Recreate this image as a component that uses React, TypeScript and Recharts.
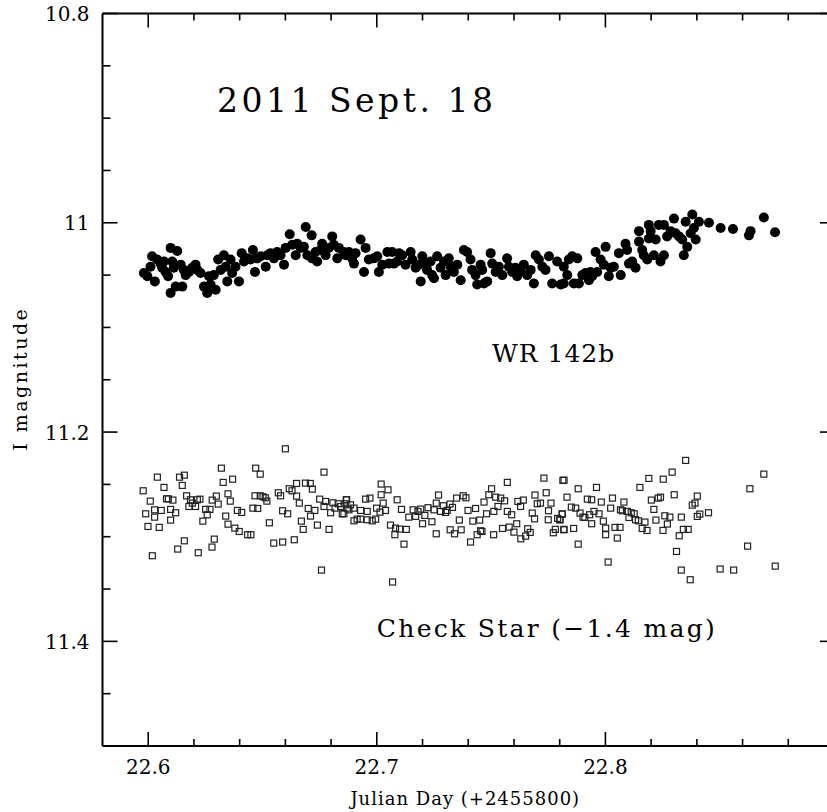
import { ScatterChart, Scatter, XAxis, YAxis, ReferenceDot, ReferenceLine } from 'recharts';

// WR 142b, I band, JD - 2455800
const wrPhot: [number, number][] = [
  [22.5981, 11.048], [22.5996, 11.051], [22.6010, 11.042], [22.6017, 11.032], [22.6029, 11.056],
  [22.6039, 11.035], [22.6054, 11.039], [22.6061, 11.043], [22.6069, 11.037], [22.6076, 11.047],
  [22.6087, 11.051], [22.6098, 11.024], [22.6098, 11.067], [22.6105, 11.037], [22.6112, 11.043],
  [22.6120, 11.061], [22.6127, 11.027], [22.6142, 11.040], [22.6149, 11.061], [22.6156, 11.045],
  [22.6164, 11.050], [22.6178, 11.047], [22.6192, 11.043], [22.6207, 11.040], [22.6214, 11.045],
  [22.6229, 11.048], [22.6244, 11.061], [22.6258, 11.067], [22.6266, 11.051], [22.6273, 11.059],
  [22.6287, 11.050], [22.6295, 11.064], [22.6306, 11.035], [22.6317, 11.045], [22.6331, 11.031],
  [22.6339, 11.042], [22.6346, 11.056], [22.6360, 11.035], [22.6367, 11.048], [22.6382, 11.042],
  [22.6397, 11.056], [22.6409, 11.029], [22.6419, 11.037], [22.6433, 11.034], [22.6448, 11.035],
  [22.6458, 11.026], [22.6467, 11.047], [22.6477, 11.034], [22.6492, 11.032], [22.6514, 11.042],
  [22.6521, 11.031], [22.6535, 11.029], [22.6550, 11.034], [22.6564, 11.028], [22.6579, 11.031],
  [22.6594, 11.040], [22.6601, 11.024], [22.6619, 11.011], [22.6630, 11.021], [22.6645, 11.031],
  [22.6652, 11.020], [22.6667, 11.024], [22.6681, 11.023], [22.6689, 11.004], [22.6696, 11.031],
  [22.6715, 11.012], [22.6717, 11.034], [22.6732, 11.028], [22.6739, 11.037], [22.6754, 11.026],
  [22.6761, 11.020], [22.6776, 11.031], [22.6790, 11.024], [22.6805, 11.013], [22.6812, 11.021],
  [22.6827, 11.034], [22.6834, 11.024], [22.6856, 11.028], [22.6864, 11.031], [22.6878, 11.028],
  [22.6892, 11.034], [22.6900, 11.039], [22.6907, 11.029], [22.6929, 11.016], [22.6944, 11.047],
  [22.6951, 11.024], [22.6965, 11.035], [22.6987, 11.034], [22.7002, 11.032], [22.7009, 11.047],
  [22.7024, 11.040], [22.7046, 11.028], [22.7053, 11.039], [22.7067, 11.028], [22.7075, 11.039],
  [22.7089, 11.037], [22.7097, 11.029], [22.7111, 11.031], [22.7126, 11.040], [22.7148, 11.028],
  [22.7155, 11.035], [22.7170, 11.043], [22.7184, 11.040], [22.7192, 11.056], [22.7199, 11.032],
  [22.7213, 11.039], [22.7220, 11.045], [22.7235, 11.037], [22.7242, 11.050], [22.7250, 11.053],
  [22.7264, 11.032], [22.7279, 11.043], [22.7294, 11.037], [22.7301, 11.050], [22.7315, 11.034],
  [22.7323, 11.042], [22.7337, 11.047], [22.7352, 11.040], [22.7367, 11.055], [22.7381, 11.026],
  [22.7395, 11.028], [22.7410, 11.035], [22.7417, 11.045], [22.7432, 11.050], [22.7439, 11.059],
  [22.7454, 11.040], [22.7461, 11.045], [22.7469, 11.058], [22.7483, 11.056], [22.7498, 11.029],
  [22.7505, 11.039], [22.7520, 11.047], [22.7534, 11.042], [22.7549, 11.050], [22.7570, 11.034],
  [22.7578, 11.042], [22.7592, 11.047], [22.7607, 11.043], [22.7614, 11.051], [22.7629, 11.047],
  [22.7643, 11.040], [22.7658, 11.050], [22.7673, 11.045], [22.7687, 11.058], [22.7695, 11.031],
  [22.7709, 11.035], [22.7724, 11.042], [22.7738, 11.045], [22.7753, 11.032], [22.7767, 11.058],
  [22.7789, 11.037], [22.7804, 11.059], [22.7818, 11.042], [22.7818, 11.058], [22.7833, 11.050],
  [22.7840, 11.035], [22.7855, 11.032], [22.7862, 11.058], [22.7877, 11.034], [22.7884, 11.058],
  [22.7899, 11.050], [22.7913, 11.048], [22.7928, 11.055], [22.7935, 11.047], [22.7942, 11.051],
  [22.7957, 11.028], [22.7964, 11.047], [22.7979, 11.035], [22.7993, 11.040], [22.8001, 11.023],
  [22.8015, 11.051], [22.8023, 11.043], [22.8037, 11.042], [22.8059, 11.029], [22.8067, 11.050],
  [22.8088, 11.020], [22.8095, 11.026], [22.8103, 11.039], [22.8117, 11.037], [22.8132, 11.043],
  [22.8147, 11.018], [22.8147, 11.008], [22.8161, 11.026], [22.8168, 11.031], [22.8183, 11.035],
  [22.8190, 11.015], [22.8190, 11.002], [22.8198, 11.008], [22.8212, 11.031], [22.8220, 11.016],
  [22.8234, 11.002], [22.8241, 11.037], [22.8256, 11.002], [22.8256, 11.031], [22.8270, 11.013],
  [22.8285, 11.008], [22.8300, 10.996], [22.8307, 11.010], [22.8322, 11.013], [22.8336, 11.016],
  [22.8343, 11.031], [22.8351, 10.999], [22.8358, 11.023], [22.8373, 11.010], [22.8380, 10.992],
  [22.8387, 11.005], [22.8395, 11.016], [22.8409, 10.999], [22.8453, 11.000], [22.8504, 11.005],
  [22.8558, 11.006], [22.8628, 11.012], [22.8635, 11.008], [22.8693, 10.995], [22.8742, 11.009],
];

// check star, shifted by -1.4 mag
const checkPhot: [number, number][] = [
  [22.5978, 11.2561], [22.6040, 11.2431], [22.6069, 11.2529], [22.6009, 11.2660], [22.5989, 11.2781],
  [22.6028, 11.2743], [22.6057, 11.2749], [22.6028, 11.2813], [22.5999, 11.2902], [22.6048, 11.2911],
  [22.6018, 11.3182], [22.6080, 11.2638], [22.6088, 11.2638], [22.6108, 11.2650], [22.6098, 11.2739],
  [22.6098, 11.2841], [22.6120, 11.2771], [22.6137, 11.2431], [22.6158, 11.2412], [22.6149, 11.2510],
  [22.6168, 11.2609], [22.6158, 11.3039], [22.6129, 11.3118], [22.6185, 11.2647], [22.6193, 11.2679],
  [22.6178, 11.2711], [22.6207, 11.2711], [22.6215, 11.2647], [22.6226, 11.2641], [22.6219, 11.3153],
  [22.6239, 11.2851], [22.6251, 11.2739], [22.6258, 11.2790], [22.6270, 11.2739], [22.6280, 11.2650],
  [22.6298, 11.2612], [22.6306, 11.2688], [22.6279, 11.3099], [22.6289, 11.3023], [22.6320, 11.2345],
  [22.6328, 11.2481], [22.6349, 11.2590], [22.6359, 11.2660], [22.6369, 11.2450], [22.6339, 11.2803],
  [22.6349, 11.2880], [22.6379, 11.2918], [22.6398, 11.2950], [22.6390, 11.2749], [22.6409, 11.2768],
  [22.6435, 11.2981], [22.6449, 11.2981], [22.6458, 11.2727], [22.6479, 11.2730], [22.6467, 11.2609],
  [22.6490, 11.2609], [22.6502, 11.2618], [22.6512, 11.2628], [22.6519, 11.2660], [22.6470, 11.2345],
  [22.6490, 11.2402], [22.6530, 11.2867], [22.6549, 11.3061], [22.6588, 11.3051], [22.6639, 11.3029],
  [22.6600, 11.2160], [22.6569, 11.2580], [22.6579, 11.2609], [22.6617, 11.2542], [22.6629, 11.2561],
  [22.6649, 11.2491], [22.6649, 11.2612], [22.6661, 11.2679], [22.6588, 11.2752], [22.6610, 11.2781],
  [22.6670, 11.2851], [22.6678, 11.2930], [22.6700, 11.2730], [22.6710, 11.2803], [22.6688, 11.2488],
  [22.6709, 11.2491], [22.6718, 11.2545], [22.6729, 11.2749], [22.6740, 11.2889], [22.6750, 11.2641],
  [22.6769, 11.2383], [22.6776, 11.2663], [22.6769, 11.2711], [22.6791, 11.2930], [22.6758, 11.3319],
  [22.6808, 11.2676], [22.6798, 11.2771], [22.6817, 11.2727], [22.6831, 11.2685], [22.6842, 11.2711],
  [22.6849, 11.2781], [22.6861, 11.2685], [22.6866, 11.2647], [22.6871, 11.2727],
  [22.6868, 11.2647], [22.6885, 11.2695], [22.6878, 11.2743], [22.6900, 11.2727], [22.6929, 11.2749],
  [22.6958, 11.2758], [22.6951, 11.2641], [22.6970, 11.2631], [22.6856, 11.2781], [22.6900, 11.2848],
  [22.6914, 11.2832], [22.6929, 11.2832], [22.6958, 11.2838], [22.6980, 11.2848], [22.6995, 11.2832],
  [22.6999, 11.2727], [22.7014, 11.2765], [22.7028, 11.2679], [22.7038, 11.2749], [22.7019, 11.2497],
  [22.7049, 11.2552], [22.7019, 11.2599], [22.7089, 11.2647], [22.7060, 11.2889], [22.7082, 11.2918],
  [22.7100, 11.2927], [22.7129, 11.2930], [22.7079, 11.2981], [22.7119, 11.3071], [22.7069, 11.3433],
  [22.7108, 11.2739], [22.7140, 11.2813], [22.7159, 11.2743], [22.7170, 11.2806], [22.7180, 11.2758],
  [22.7192, 11.2736], [22.7210, 11.2797], [22.7200, 11.2876], [22.7224, 11.2723], [22.7241, 11.2857],
  [22.7250, 11.2743], [22.7260, 11.2679], [22.7270, 11.2602], [22.7279, 11.2758], [22.7291, 11.2704],
  [22.7301, 11.2768], [22.7308, 11.2749], [22.7320, 11.2688], [22.7331, 11.2720], [22.7260, 11.2972],
  [22.7321, 11.2934], [22.7340, 11.2972], [22.7369, 11.2934], [22.7361, 11.2841], [22.7349, 11.2631],
  [22.7378, 11.2609], [22.7390, 11.2628], [22.7399, 11.2749], [22.7432, 11.2730], [22.7420, 11.2851],
  [22.7450, 11.2841], [22.7410, 11.3051], [22.7439, 11.2981], [22.7454, 11.2943], [22.7460, 11.2950],
  [22.7511, 11.2981], [22.7469, 11.2669], [22.7480, 11.2781], [22.7490, 11.2599], [22.7502, 11.2542],
  [22.7520, 11.2622], [22.7512, 11.2758], [22.7530, 11.2711], [22.7542, 11.2631], [22.7559, 11.2657],
  [22.7571, 11.2758], [22.7590, 11.2790], [22.7550, 11.2921], [22.7579, 11.2908], [22.7600, 11.2956],
  [22.7612, 11.2876], [22.7571, 11.2481], [22.7617, 11.2663], [22.7629, 11.2711], [22.7641, 11.2650],
  [22.7630, 11.3020], [22.7651, 11.2994], [22.7660, 11.2924], [22.7671, 11.2959], [22.7680, 11.2774],
  [22.7690, 11.2829], [22.7692, 11.2602], [22.7702, 11.2685], [22.7716, 11.2679], [22.7731, 11.2440],
  [22.7741, 11.2580], [22.7751, 11.2752], [22.7762, 11.2679], [22.7750, 11.2838], [22.7791, 11.2825],
  [22.7801, 11.2838], [22.7818, 11.2934], [22.7781, 11.2930], [22.7772, 11.2962], [22.7814, 11.2462],
  [22.7811, 11.2784],
  [22.7819, 11.2459], [22.7832, 11.2622], [22.7811, 11.2781], [22.7801, 11.2838], [22.7819, 11.2930],
  [22.7861, 11.2921], [22.7881, 11.3071], [22.7851, 11.2717], [22.7870, 11.2727], [22.7881, 11.2542],
  [22.7889, 11.2774], [22.7902, 11.2813], [22.7910, 11.2816], [22.7921, 11.2641], [22.7940, 11.2647],
  [22.7931, 11.2790], [22.7940, 11.2876], [22.7950, 11.2758], [22.7961, 11.2529], [22.7972, 11.2781],
  [22.7982, 11.2669], [22.7991, 11.2851], [22.8001, 11.2918], [22.8001, 11.2981], [22.8012, 11.3242],
  [22.8023, 11.2727], [22.8031, 11.2631], [22.8042, 11.2911], [22.8064, 11.2911], [22.8052, 11.3013],
  [22.8066, 11.2743], [22.8081, 11.2669], [22.8074, 11.2752], [22.8096, 11.2758], [22.8103, 11.2816],
  [22.8113, 11.2771], [22.8126, 11.2781], [22.8132, 11.2838], [22.8144, 11.2848], [22.8151, 11.2529],
  [22.8161, 11.2921], [22.8173, 11.2860], [22.8182, 11.2940], [22.8190, 11.2443], [22.8201, 11.2650],
  [22.8212, 11.2739], [22.8221, 11.2841], [22.8231, 11.2631], [22.8241, 11.2622], [22.8253, 11.2450],
  [22.8252, 11.2940], [22.8260, 11.2800], [22.8271, 11.2879], [22.8282, 11.2813], [22.8292, 11.2383],
  [22.8301, 11.2599], [22.8311, 11.3141], [22.8323, 11.2991], [22.8332, 11.2813], [22.8341, 11.2930],
  [22.8351, 11.2271], [22.8362, 11.2930], [22.8332, 11.3319], [22.8371, 11.3411], [22.8380, 11.2698],
  [22.8392, 11.2679], [22.8402, 11.2612], [22.8402, 11.2806], [22.8413, 11.2784], [22.8451, 11.2771],
  [22.8502, 11.3309], [22.8561, 11.3319], [22.8622, 11.3090], [22.8632, 11.2542], [22.8693, 11.2402],
  [22.8743, 11.3281],
];

const X_DOMAIN: [number, number] = [22.58, 22.9];
const Y_DOMAIN: [number, number] = [10.8, 11.5];
const xTicks = [22.6, 22.62, 22.64, 22.66, 22.68, 22.7, 22.72, 22.74, 22.76, 22.78, 22.8, 22.82, 22.84, 22.86, 22.88];
const xMajor = [22.6, 22.7, 22.8];
const yTicks = [10.8, 10.85, 10.9, 10.95, 11, 11.05, 11.1, 11.15, 11.2, 11.25, 11.3, 11.35, 11.4, 11.45];
const yMajor = [10.8, 11, 11.2, 11.4];

const FONT = '"DejaVu Serif", serif';

const isIn = (arr: number[], v: number) => arr.some((a) => Math.abs(a - v) < 1e-9);
const fmtY = (v: number) => (Number.isInteger(v) ? String(v) : v.toFixed(1));

const FilledDot = ({ cx, cy }: any) => <circle cx={cx} cy={cy} r={5} fill="#000" />;
const OpenSquare = ({ cx, cy }: any) => (
  <rect x={cx - 3} y={cy - 3} width={6} height={6} fill="none" stroke="#222" strokeWidth={1.2} />
);

// tick mark (and optional label) drawn from the anchor point that the scales give
const tickShape =
  (side: 'b' | 't' | 'l' | 'r', major: boolean, label?: string) =>
  ({ cx, cy }: any) => {
    const len = side === 'l' ? (major ? 15 : 8) : major ? 14 : 7;
    const d =
      side === 'b' ? `M${cx},${cy}L${cx},${cy - len}` :
      side === 't' ? `M${cx},${cy}L${cx},${cy + len}` :
      side === 'l' ? `M${cx},${cy}L${cx + len},${cy}` :
      `M${cx},${cy}L${cx - len},${cy}`;
    return (
      <g>
        <path d={d} stroke="#000" strokeWidth={1.6} fill="none" />
        {label && side === 'b' && (
          <text x={cx} y={cy + 28} textAnchor="middle" fontFamily={FONT} fontSize={20} fill="#000">
            {label}
          </text>
        )}
        {label && side === 'l' && (
          <text x={cx - 13} y={cy + 7.5} textAnchor="end" fontFamily={FONT} fontSize={20} fill="#000">
            {label}
          </text>
        )}
      </g>
    );
  };

// text drawn relative to a data anchor
const textAt =
  (label: string, size: number, spacing: number, opts: { dx?: number; dy?: number; anchor?: string; rotate?: boolean } = {}) =>
  ({ cx, cy }: any) => {
    const x = cx + (opts.dx ?? 0);
    const y = cy + (opts.dy ?? 0);
    return (
      <text
        x={x}
        y={y}
        textAnchor={opts.anchor ?? 'start'}
        transform={opts.rotate ? `rotate(-90 ${x} ${y})` : undefined}
        fontFamily={FONT}
        fontSize={size}
        letterSpacing={spacing}
        fill="#000"
      >
        {label}
      </text>
    );
  };

const frameStyle = { stroke: '#000', strokeWidth: 2, ifOverflow: 'visible' as const };

const App = () => {
  const wrData = wrPhot.map(([jd, mag]) => ({ jd, mag }));
  const checkData = checkPhot.map(([jd, mag]) => ({ jd, mag }));

  const xTickDots = xTicks.flatMap((v) => {
    const major = isIn(xMajor, v);
    return [
      <ReferenceDot key={`b${v}`} x={v} y={Y_DOMAIN[1]} r={0} ifOverflow="visible"
        shape={tickShape('b', major, major ? v.toFixed(1) : undefined)} />,
      <ReferenceDot key={`t${v}`} x={v} y={Y_DOMAIN[0]} r={0} ifOverflow="visible" shape={tickShape('t', major)} />,
    ];
  });
  const yTickDots = yTicks.flatMap((v) => {
    const major = isIn(yMajor, v);
    return [
      <ReferenceDot key={`l${v}`} x={X_DOMAIN[0]} y={v} r={0} ifOverflow="visible"
        shape={tickShape('l', major, major ? fmtY(v) : undefined)} />,
      <ReferenceDot key={`r${v}`} x={X_DOMAIN[1]} y={v} r={0} ifOverflow="visible" shape={tickShape('r', major)} />,
    ];
  });

  return (
    <div style={{ position: 'fixed', left: 0, top: 0, width: 827, height: 812, overflow: 'hidden', background: '#fff' }}>
      <ScatterChart width={844} height={812} margin={{ top: 13.5, right: 10, bottom: 66, left: 102.5 }}>
        <XAxis dataKey="jd" type="number" domain={X_DOMAIN} hide />
        <YAxis dataKey="mag" type="number" domain={Y_DOMAIN} reversed hide />
        <ReferenceLine y={Y_DOMAIN[0]} {...frameStyle} />
        <ReferenceLine y={Y_DOMAIN[1]} {...frameStyle} />
        <ReferenceLine x={X_DOMAIN[0]} {...frameStyle} />
        <ReferenceLine x={X_DOMAIN[1]} {...frameStyle} />
        {xTickDots}
        {yTickDots}
        <ReferenceDot x={(X_DOMAIN[0] + X_DOMAIN[1]) / 2} y={Y_DOMAIN[1]} r={0} ifOverflow="visible"
          shape={textAt('Julian Day (+2455800)', 18, 1, { dx: -3, dy: 59, anchor: 'middle' })} />
        <ReferenceDot x={X_DOMAIN[0]} y={11.149} r={0} ifOverflow="visible"
          shape={textAt('I magnitude', 19, 2.5, { dx: -75.5, anchor: 'middle', rotate: true })} />
        <Scatter data={wrData} dataKey="mag" isAnimationActive={false} shape={FilledDot} />
        <Scatter data={checkData} dataKey="mag" isAnimationActive={false} shape={OpenSquare} />
        <ReferenceDot x={22.6301} y={10.8941} r={0} ifOverflow="visible" shape={textAt('2011 Sept. 18', 33, 3.5)} />
        <ReferenceDot x={22.7504} y={11.1329} r={0} ifOverflow="visible" shape={textAt('WR 142b', 25, 1)} />
        <ReferenceDot x={22.7} y={11.3955} r={0} ifOverflow="visible" shape={textAt('Check Star (\u22121.4 mag)', 25, 2.3)} />
      </ScatterChart>
    </div>
  );
};

export default App;
